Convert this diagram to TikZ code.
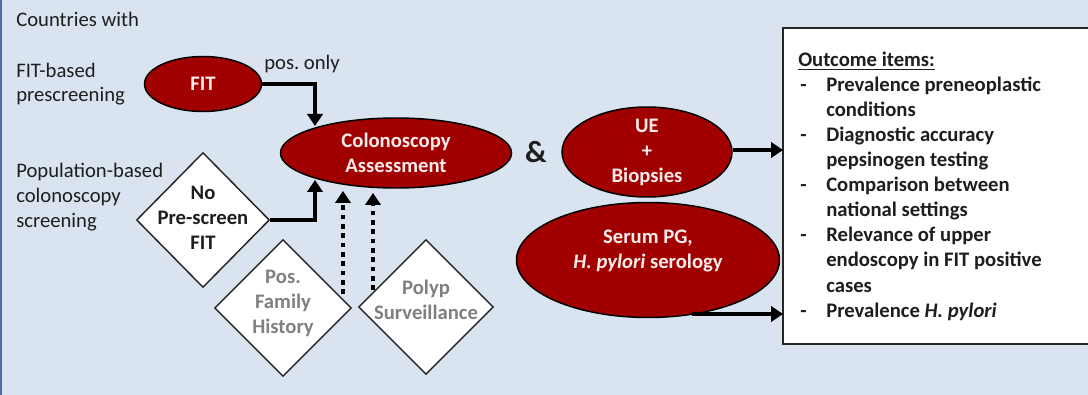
\documentclass[tikz,border=0pt]{standalone}
\usepackage{fontspec}
\setmainfont{Carlito}
\usetikzlibrary{shapes.geometric,arrows.meta}
\definecolor{bg}{HTML}{DAE3F0}
\definecolor{edgeblue}{HTML}{4F6FA0}
\definecolor{dred}{HTML}{A00000}
\definecolor{pinkw}{HTML}{FDECEC}
\definecolor{txt}{HTML}{1E1E1E}
\definecolor{graytxt}{HTML}{808080}
\newcommand{\fsz}{\fontsize{15.5}{18.75}\selectfont}
\frenchspacing
\begin{document}
\begin{tikzpicture}[x=0.75pt,y=-0.75pt,
  every node/.style={font=\fsz, inner sep=0pt, text=txt},
  lbl/.style={anchor=base west},
  blbl/.style={anchor=base west, font=\fsz\bfseries},
  redell/.style={ellipse, draw=black, line width=1.1pt, fill=dred},
  wtxt/.style={text=pinkw, font=\fsz\bfseries, align=center},
  dtxt/.style={font=\fsz\bfseries, align=center},
  dia/.style={diamond, draw=black!85, line width=1.1pt, fill=white},
  arr/.style={line width=3pt, -{Triangle[length=9pt,width=11.5pt]}},
  darr/.style={line width=3pt, dash pattern=on 3.5pt off 3.5pt, -{Triangle[length=9pt,width=11.5pt]}},
]
\fill[bg] (0,0) rectangle (1088,395);
\useasboundingbox (0,0) rectangle (1088,395);
\fill[edgeblue] (0,0) rectangle (2,395);

% left texts
\node[lbl] (t1) at (16,27) {Countries with};
\node[lbl] (t2) at (16,78) {FIT-based};
\node[lbl] (t3) at (16,102) {prescreening};
\node[lbl] (t4) at (16,178) {Population-based};
\node[lbl] (t5) at (16,203) {colonoscopy};
\node[lbl] (t6) at (16,228) {screening};

% ellipses
\node[redell, minimum width={117*0.75pt}, minimum height={55*0.75pt}] (fit) at (203,84) {};
\node[wtxt] (fitt) at (203,84) {FIT};
\node[redell, minimum width={231*0.75pt}, minimum height={70*0.75pt}] (col) at (396,153) {};
\node[wtxt] (colt) at (396,153) {Colonoscopy\\Assessment};
\node[font=\fontsize{23}{26}\selectfont\bfseries] (amp) at (536,152) {\&};
\node[redell, minimum width={170*0.75pt}, minimum height={90*0.75pt}] (ue) at (647,152) {};
\node[wtxt] (uet) at (647,152) {UE\\+\\Biopsies};
\node[redell, minimum width={263*0.75pt}, minimum height={115*0.75pt}] (ser) at (648,260) {};
\node[wtxt] (sert) at (648,251) {Serum PG,\\\textit{H. pylori} serology};

\node[lbl] (pos) at (264,70) {pos. only};

% diamonds
\node[dia, minimum width={133*0.75pt}, minimum height={135*0.75pt}] (d1) at (203,220) {};
\node[dtxt] (d1t) at (203,218) {No\\Pre-screen\\FIT};
\node[dia, minimum width={137*0.75pt}, minimum height={137*0.75pt}] (d2) at (283,308) {};
\node[dtxt, text=graytxt] (d2t) at (283,303) {Pos.\\Family\\History};
\node[dia, minimum width={135*0.75pt}, minimum height={135*0.75pt}] (d3) at (426,307) {};
\node[dtxt, text=graytxt] (d3t) at (426,300) {Polyp\\Surveillance};

% outcome box
\draw[draw=black!85, line width=1.3pt, fill=white] (783,28) rectangle (1095,344);
\node[blbl] (o0) at (798,67) {\underline{Outcome items:}};
\foreach \y/\d/\t [count=\i] in {92/-/Prevalence preneoplastic, 117/ /conditions, 142/-/Diagnostic accuracy, 167/ /pepsinogen testing, 192/-/Comparison between, 217/ /national settings, 242/-/Relevance of upper, 267/ /endoscopy in FIT positive, 292/ /cases}{
  \node[blbl] (od\i) at (800,\y) {\d};
  \node[blbl] (o\i) at (826,\y) {\t};
}
\node[blbl] (od10) at (800,317) {-};
\node[blbl] (o10) at (826,317) {Prevalence \textit{H. pylori}};
\coordinate (boxa) at (783,150);
\coordinate (boxb) at (783,314);

% connectors
\coordinate (c1) at (315,84);
\coordinate (c1e) at (315,126);
\draw[arr] (fit.east) -- (c1) -- (c1e);
\coordinate (c2) at (315,220);
\coordinate (c2e) at (315,180);
\draw[arr] (d1.east) -- (c2) -- (c2e);
\coordinate (c3s) at (343,294);
\coordinate (c3e) at (343,191);
\draw[darr] (c3s) -- (c3e);
\coordinate (c4s) at (373,290);
\coordinate (c4e) at (373,193);
\draw[darr] (c4s) -- (c4e);
\draw[arr] (ue.east |- boxa) -- (boxa);
\coordinate (c5) at (692,314);
\draw[arr] (c5) -- (boxb);
\end{tikzpicture}
\end{document}
